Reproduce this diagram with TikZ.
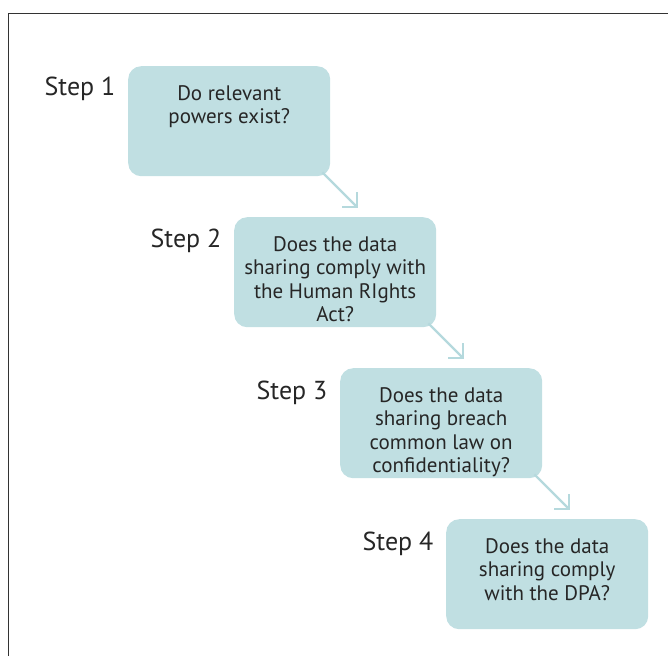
\documentclass[tikz,border=0pt]{standalone}
\usepackage{fontspec}
\setmainfont{PT Sans}
\definecolor{boxfill}{HTML}{C0DFE2}
\definecolor{arrowcol}{HTML}{B5D9DD}
\begin{document}
\begin{tikzpicture}[x=1pt,y=-1pt,
  qbox/.style={fill=boxfill, rounded corners=13pt, minimum width=202pt, minimum height=110pt, anchor=north west, inner sep=0pt},
  qtext/.style={align=center, font=\fontsize{21}{23.5}\selectfont, anchor=north, text=black!85, inner sep=0pt},
  steplabel/.style={font=\fontsize{26}{30}\selectfont, anchor=center, text=black!85},
  flowarrow/.style={draw=arrowcol, line width=2.2pt}
]
\useasboundingbox (0,0) rectangle (668,656);
\draw[line width=1pt, black!80] (8.5,656) -- (8.5,13.5) -- (668,13.5);
% boxes
\node[qbox] (b1) at (128,66) {};
\node[qbox] (b2) at (234,217) {};
\node[qbox] (b3) at (340,368) {};
\node[qbox] (b4) at (446,519) {};
% texts
\node[qtext] (t1) at ([yshift=-19pt]b1.north) {Do relevant\\powers exist?};
\node[qtext] (t2) at ([yshift=-19pt]b2.north) {Does the data\\sharing comply with\\the Human RIghts\\Act?};
\node[qtext] (t3) at ([yshift=-19pt]b3.north) {Does the data\\sharing breach\\common law on\\confidentiality?};
\node[qtext] (t4) at ([yshift=-19pt]b4.north) {Does the data\\sharing comply\\with the DPA?};
% step labels
\node[steplabel] (s1) at (80,89) {Step 1};
\node[steplabel] (s2) at (186,241) {Step 2};
\node[steplabel] (s3) at (292,393) {Step 3};
\node[steplabel] (s4) at (398,544) {Step 4};
% arrows
\coordinate (a1) at (357,207);
\coordinate (a2) at (463,358);
\coordinate (a3) at (569,509);
\draw[flowarrow] (b1.south east) ++(-8,-4) -- (a1);
\draw[flowarrow, line join=miter] ([xshift=-15pt]a1) -- (a1) -- ([yshift=15pt]a1);
\draw[flowarrow] (b2.south east) ++(-8,-4) -- (a2);
\draw[flowarrow, line join=miter] ([xshift=-15pt]a2) -- (a2) -- ([yshift=15pt]a2);
\draw[flowarrow] (b3.south east) ++(-8,-4) -- (a3);
\draw[flowarrow, line join=miter] ([xshift=-15pt]a3) -- (a3) -- ([yshift=15pt]a3);
\end{tikzpicture}
\end{document}
